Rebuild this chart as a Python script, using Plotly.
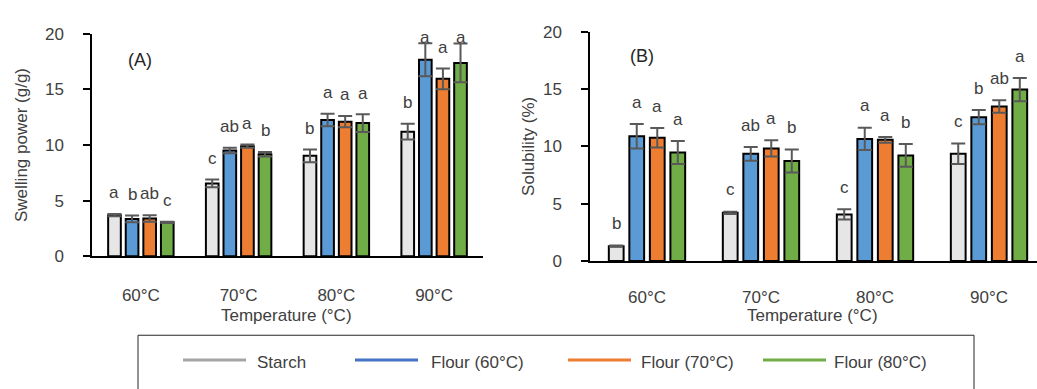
import plotly.graph_objects as go

# ---- data -------------------------------------------------------------
temps = ["60°C", "70°C", "80°C", "90°C"]
series = ["Starch", "Flour (60°C)", "Flour (70°C)", "Flour (80°C)"]

swelling = {
    "Starch":       [3.70, 6.55, 9.03, 11.20],
    "Flour (60°C)": [3.36, 9.50, 12.25, 17.66],
    "Flour (70°C)": [3.40, 9.90, 12.10, 15.95],
    "Flour (80°C)": [3.05, 9.17, 11.97, 17.38],
}
swelling_sd = {
    "Starch":       [0.10, 0.35, 0.57, 0.70],
    "Flour (60°C)": [0.30, 0.25, 0.57, 1.48],
    "Flour (70°C)": [0.30, 0.15, 0.50, 0.93],
    "Flour (80°C)": [0.05, 0.20, 0.80, 1.74],
}
swelling_letters = {
    "Starch":       ["a", "c", "b", "b"],
    "Flour (60°C)": ["b", "ab", "a", "a"],
    "Flour (70°C)": ["ab", "a", "a", "a"],
    "Flour (80°C)": ["c", "b", "a", "a"],
}

solubility = {
    "Starch":       [1.30, 4.21, 4.07, 9.36],
    "Flour (60°C)": [10.89, 9.36, 10.66, 12.55],
    "Flour (70°C)": [10.75, 9.83, 10.58, 13.49],
    "Flour (80°C)": [9.47, 8.73, 9.22, 14.96],
}
solubility_sd = {
    "Starch":       [0.05, 0.10, 0.45, 0.90],
    "Flour (60°C)": [1.07, 0.60, 0.98, 0.62],
    "Flour (70°C)": [0.85, 0.70, 0.25, 0.54],
    "Flour (80°C)": [1.00, 1.00, 1.00, 1.02],
}
solubility_letters = {
    "Starch":       ["b", "c", "c", "c"],
    "Flour (60°C)": ["a", "ab", "a", "b"],
    "Flour (70°C)": ["a", "a", "a", "ab"],
    "Flour (80°C)": ["a", "b", "b", "a"],
}

# ---- styling ----------------------------------------------------------
bar_fill = ["#E7E6E6", "#5B9BD5", "#ED7D31", "#70AD47"]
legend_line = ["#A5A5A5", "#4472C4", "#ED7D31", "#70AD47"]
TXT = "#404040"
FONT = "Liberation Sans, Arial, sans-serif"
FS = 17
W, H = 1037, 389
BARGAP = 0.28
BARGROUPGAP = 0.28


def py(px):
    """Paper fraction for a vertical pixel offset from the top."""
    return 1 - px / H


def px_(px):
    """Paper fraction for a horizontal pixel offset from the left."""
    return px / W


fig = go.Figure()

panels = [
    ("x", "y", swelling, swelling_sd, swelling_letters),
    ("x2", "y2", solubility, solubility_sd, solubility_letters),
]

annotations = []
n = len(series)
slot = (1 - BARGAP) / n
for xa, ya, vals, sds, letters in panels:
    for j, s in enumerate(series):
        fig.add_trace(go.Bar(
            x=temps, y=vals[s], name=s, xaxis=xa, yaxis=ya,
            marker=dict(color=bar_fill[j], line=dict(color="#000000", width=2)),
            error_y=dict(type="data", array=sds[s], color="#595959",
                         thickness=2, width=7),
            showlegend=False,
        ))
        # significance letters above each error bar
        for i, t in enumerate(temps):
            top = vals[s][i] + sds[s][i]
            annotations.append(dict(
                x=i + (j - (n - 1) / 2) * slot, y=min(top + 1.9, 19.7),
                xref=xa, yref=ya, text=letters[s][i], showarrow=False,
                yanchor="middle", xanchor="center",
                font=dict(family=FONT, size=FS, color=TXT),
            ))


def label(x, y, text, size=FS, color=TXT, angle=0, xanchor="center"):
    return dict(x=x, y=y, xref="paper", yref="paper", text=text,
                textangle=angle, showarrow=False, xanchor=xanchor,
                yanchor="middle", font=dict(family=FONT, size=size, color=color))


# panel tags and axis titles
annotations += [
    dict(x=-0.01, y=17.6, xref="x", yref="y", text="(A)", showarrow=False,
         xanchor="center", yanchor="middle",
         font=dict(family=FONT, size=18, color="#262626")),
    dict(x=-0.045, y=17.9, xref="x2", yref="y2", text="(B)", showarrow=False,
         xanchor="center", yanchor="middle",
         font=dict(family=FONT, size=18, color="#262626")),
    label(px_(21), py(143), "Swelling power (g/g)", angle=-90),
    label(px_(529), py(145), "Solubility (%)", angle=-90),
    label(px_(286), py(322), "Temperature (°C)"),
    label(px_(812), py(322), "Temperature (°C)"),
]

# legend drawn beneath the panels
shapes = [dict(type="rect", xref="paper", yref="paper",
               x0=px_(138), x1=px_(974), y0=-0.05, y1=py(343),
               line=dict(color="#262626", width=1), fillcolor="rgba(0,0,0,0)")]
line_x = [183, 355, 568, 763]
text_x = [255, 429, 639, 832]
for j, s in enumerate(series):
    shapes.append(dict(type="line", xref="paper", yref="paper",
                       x0=px_(line_x[j]), x1=px_(line_x[j] + 63),
                       y0=py(369), y1=py(369),
                       line=dict(color=legend_line[j], width=3)))
    annotations.append(label(px_(text_x[j]), py(372), s, xanchor="left"))

xaxis_common = dict(
    type="category", showgrid=False, zeroline=False, showline=True,
    linecolor="#000000", linewidth=1.5, ticks="",
    tickfont=dict(family=FONT, size=FS, color=TXT), fixedrange=True,
)
yaxis_common = dict(
    range=[0, 20], dtick=5, showgrid=False, zeroline=False, showline=True,
    linecolor="#000000", linewidth=1.5, ticks="outside", ticklen=7,
    tickcolor="#000000", tickwidth=1.5, ticklabelstandoff=16,
    tickfont=dict(family=FONT, size=FS, color=TXT), fixedrange=True,
)

fig.update_layout(
    width=W, height=H,
    margin=dict(l=0, r=0, t=0, b=0),
    paper_bgcolor="#FFFFFF", plot_bgcolor="#FFFFFF",
    barmode="group", bargap=BARGAP, bargroupgap=BARGROUPGAP,
    xaxis=dict(xaxis_common, domain=[px_(92), px_(483)], range=[-0.5, 3.5],
               anchor="y", ticklabelstandoff=23),
    yaxis=dict(yaxis_common, domain=[py(260), py(26)], anchor="x"),
    xaxis2=dict(xaxis_common, domain=[px_(590), 1.0], range=[-0.5, 3.421],
                anchor="y2", ticklabelstandoff=20),
    yaxis2=dict(yaxis_common, domain=[py(265), py(24)], anchor="x2"),
    annotations=annotations,
    shapes=shapes,
    showlegend=False,
)

fig.write_html("out.html")
